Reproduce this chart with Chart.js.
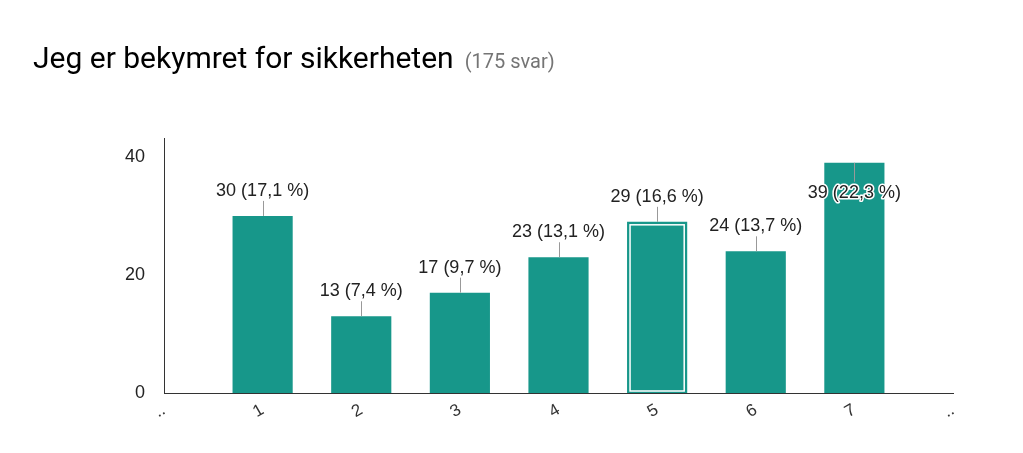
<!DOCTYPE html>
<html>
<head>
<meta charset="utf-8">
<script src="https://cdn.jsdelivr.net/npm/chart.js@4.4.1/dist/chart.umd.min.js"></script>
<style>
  body { margin: 0; background: #fff; }
  #wrap { position: relative; width: 1023px; height: 453px; }
  #title { position: absolute; left: 33px; top: 40px; font-family: Roboto, sans-serif; font-size: 30px; color: #000; white-space: nowrap; }
  #title span { font-size: 20px; color: #757575; margin-left: 11px; }
  canvas { position: absolute; left: 0; top: 0; }
</style>
</head>
<body>
<div id="wrap">
  <canvas id="myChart" width="1023" height="453"></canvas>
  <div id="title">Jeg er bekymret for sikkerheten<span>(175 svar)</span></div>
</div>
<script>
var categories = ['..', '1', '2', '3', '4', '5', '6', '7', '..'];
var counts = [null, 30, 13, 17, 23, 29, 24, 39, null];
var percents = [null, '17,1', '7,4', '9,7', '13,1', '16,6', '13,7', '22,3', null];
var yTicks = [0, 20, 40];
var highlighted = 5;

var barColor = '#17978a';

// labels above the bars with a small leader line
var barLabels = {
    id: 'barLabels',
    afterDatasetsDraw: function(chart) {
        var ctx = chart.ctx;
        var meta = chart.getDatasetMeta(0);
        var area = chart.chartArea;
        ctx.save();
        ctx.font = '18px "Liberation Sans", Arial, sans-serif';
        ctx.textAlign = 'center';
        ctx.textBaseline = 'middle';
        meta.data.forEach(function(bar, i) {
            if (counts[i] == null) return;
            var text = counts[i] + ' (' + percents[i] + ' %)';
            var top = bar.y;
            var ty, y1, y2;
            if (top - 25 < area.top + 20) {
                ty = top + 30; y1 = top; y2 = ty - 11;
            } else {
                ty = top - 25; y1 = ty + 10; y2 = top;
            }
            if (i === highlighted) {
                ctx.strokeStyle = '#ffffff';
                ctx.lineWidth = 1.5;
                ctx.strokeRect(bar.x - bar.width / 2 + 3, top + 3, bar.width - 6, bar.base - top - 5);
            }
            ctx.strokeStyle = '#999999';
            ctx.lineWidth = 1;
            ctx.beginPath();
            ctx.moveTo(Math.round(bar.x) + 0.5, y1);
            ctx.lineTo(Math.round(bar.x) + 0.5, y2);
            ctx.stroke();
            if (ty > top) {
                ctx.strokeStyle = '#ffffff';
                ctx.lineWidth = 3;
                ctx.lineJoin = 'round';
                ctx.strokeText(text, bar.x, ty);
            }
            ctx.fillStyle = '#222222';
            ctx.fillText(text, bar.x, ty);
        });
        ctx.restore();
    }
};

var ctx = document.getElementById('myChart').getContext('2d');
var chart = new Chart(ctx, {
    type: 'bar',
    data: {
        labels: categories,
        datasets: [{
            data: counts,
            backgroundColor: barColor,
            borderWidth: 0,
            categoryPercentage: 1,
            barPercentage: 0.61
        }]
    },
    options: {
        responsive: false,
        animation: false,
        layout: { padding: { left: 0, right: 70, top: 138, bottom: 0 } },
        plugins: { legend: { display: false }, tooltip: { enabled: false }, title: { display: false } },
        scales: {
            x: {
                offset: false,
                grid: { display: false, drawTicks: false },
                border: { display: true, color: '#333333', width: 1 },
                ticks: {
                    minRotation: 30, maxRotation: 30, padding: 7,
                    color: '#333333',
                    font: { family: '"Liberation Sans", Arial, sans-serif', size: 17 }
                },
                afterFit: function(scale) { scale.height = 60; }
            },
            y: {
                min: 0, max: 43.2,
                grid: { display: false, drawTicks: false },
                border: { display: true, color: '#333333', width: 1 },
                ticks: {
                    padding: 19,
                    color: '#222222',
                    font: { family: '"Liberation Sans", Arial, sans-serif', size: 18 }
                },
                afterBuildTicks: function(scale) {
                    scale.ticks = yTicks.map(function(v) { return { value: v }; });
                },
                afterFit: function(scale) { scale.width = 164; }
            }
        }
    },
    plugins: [barLabels]
});
</script>
</body>
</html>
